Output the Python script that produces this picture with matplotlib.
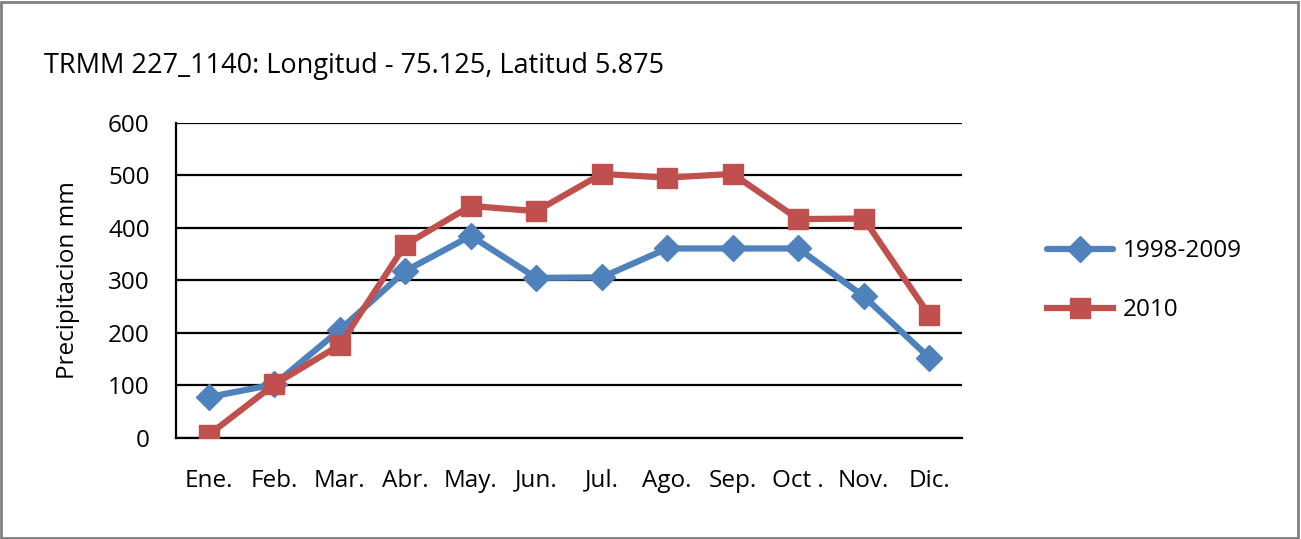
import matplotlib
matplotlib.use('Agg')
import matplotlib.pyplot as plt
from matplotlib.patches import Rectangle

months = ['Ene.', 'Feb.', 'Mar.', 'Abr.', 'May.', 'Jun.', 'Jul.', 'Ago.', 'Sep.', 'Oct .', 'Nov.', 'Dic.']
avg_1998_2009 = [78, 102, 206, 318, 385, 305, 306, 361, 361, 361, 270, 153]
rain_2010 = [6, 102, 177, 368, 442, 432, 503, 496, 503, 417, 418, 234]
y_ticks = [0, 100, 200, 300, 400, 500, 600]

plt.rcParams['font.family'] = ['Open Sans', 'DejaVu Sans']

fig = plt.figure(figsize=(13.01, 5.39), dpi=100)
ax = fig.add_axes([0.1353, 0.1874, 0.6041, 0.5844])

x = list(range(len(months)))
ax.plot(x, avg_1998_2009, color='#4F81BD', lw=4.5, marker='D', markersize=13,
        label='1998-2009', solid_joinstyle='round', solid_capstyle='round', zorder=3)
ax.plot(x, rain_2010, color='#C0504D', lw=4.5, marker='s', markersize=15,
        label='2010', zorder=4)

ax.set_xlim(-0.5, 11.5)
ax.set_ylim(0, 600)
ax.set_yticks(y_ticks)
ax.set_xticks(x)
ax.set_xticklabels(months, fontsize=17.5)
ax.tick_params(axis='y', labelsize=17.5, length=0, pad=19)
ax.tick_params(axis='x', length=0, pad=22)
ax.yaxis.grid(True, color='black', lw=1.6)
ax.set_axisbelow(True)
for s in ['top', 'right']:
    ax.spines[s].set_visible(False)
ax.spines['left'].set_linewidth(1.6)
ax.spines['bottom'].set_linewidth(1.6)
ax.set_ylabel('Precipitacion mm', fontsize=17.5, labelpad=20)

fig.text(0.034, 0.877, 'TRMM 227_1140: Longitud - 75.125, Latitud 5.875', fontsize=19.5,
         va='center', ha='left')

fig.legend(loc='center left', bbox_to_anchor=(0.788, 0.479), frameon=False, fontsize=17.5,
           handlelength=2.7, labelspacing=1.45, handletextpad=0.4)

fig.patches.append(Rectangle((0.001, 0.002), 0.997, 0.995, transform=fig.transFigure,
                             fill=False, edgecolor='#808080', lw=2))

fig.savefig('out.png', dpi=100)
